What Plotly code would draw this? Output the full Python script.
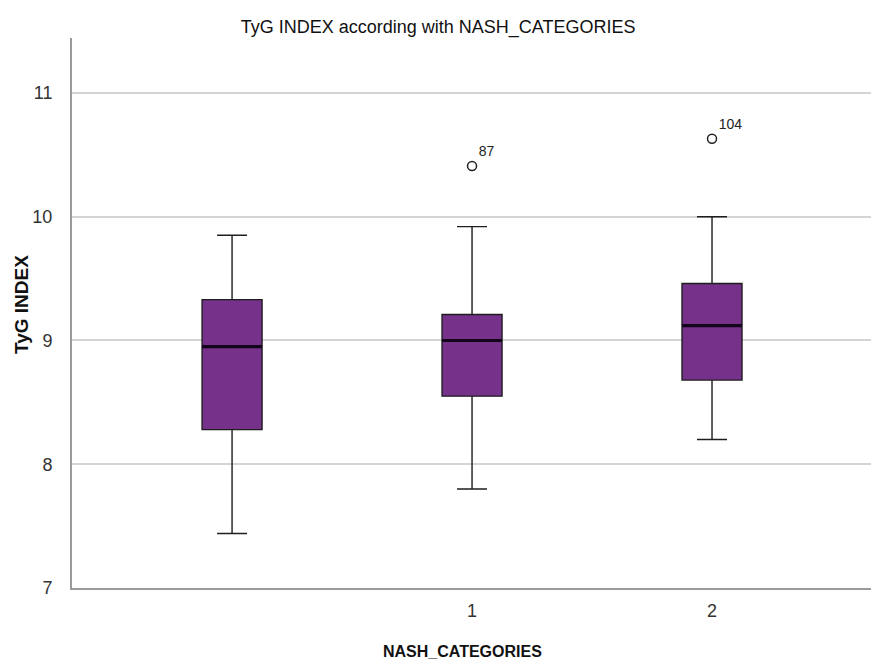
import plotly.graph_objects as go

# Data
categories = [0, 1, 2]
tick_labels = ["", "1", "2"]
lower_whisker = [7.44, 7.80, 8.20]
q1_values = [8.28, 8.55, 8.68]
median_values = [8.95, 9.00, 9.12]
q3_values = [9.33, 9.21, 9.46]
upper_whisker = [9.85, 9.92, 10.00]

outlier_x = [1, 2]
outlier_y = [10.41, 10.63]
outlier_ids = ["87", "104"]

BOX_FILL = "#76318a"
FONT_N = "Liberation Sans Narrow, Arial Narrow, Liberation Sans, sans-serif"
FONT_B = "Liberation Sans, Arial, sans-serif"

fig = go.Figure()

# main boxes
fig.add_trace(go.Box(
    x=categories,
    q1=q1_values, median=median_values, q3=q3_values,
    lowerfence=lower_whisker, upperfence=upper_whisker,
    width=0.25, whiskerwidth=0.5,
    fillcolor=BOX_FILL,
    line=dict(color="#1e1e1e", width=1.4),
    offsetgroup="a",
    showlegend=False, hoverinfo="skip",
))

# thick median lines (degenerate boxes)
fig.add_trace(go.Box(
    x=categories,
    q1=median_values, median=median_values, q3=median_values,
    lowerfence=median_values, upperfence=median_values,
    width=0.25, whiskerwidth=0,
    fillcolor="rgba(0,0,0,0)",
    line=dict(color="#14061a", width=3.2),
    offsetgroup="a",
    showlegend=False, hoverinfo="skip",
))

# outliers
fig.add_trace(go.Scatter(
    x=outlier_x, y=outlier_y,
    mode="markers+text",
    marker=dict(symbol="circle-open", size=9, color="#222222", line=dict(width=1.5)),
    text=outlier_ids, textposition="top right",
    textfont=dict(family=FONT_N, size=14, color="#222222"),
    showlegend=False, hoverinfo="skip",
))

fig.update_layout(
    width=871, height=662,
    margin=dict(l=72, r=0, t=38, b=74, autoexpand=False),
    plot_bgcolor="white", paper_bgcolor="white",
    boxmode="overlay",
    title=dict(
        text="TyG INDEX according with NASH_CATEGORIES",
        x=0.503, xanchor="center", y=0.959, yanchor="middle",
        xref="container", yref="container",
        font=dict(family=FONT_N, size=18, color="#111111"),
    ),
    annotations=[
        dict(text="<b>TyG INDEX</b>", xref="paper", yref="paper",
             x=0, y=0.5145, xshift=-51, textangle=-90,
             xanchor="center", yanchor="middle", showarrow=False,
             font=dict(family=FONT_B, size=19, color="#111111")),
        dict(text="<b>NASH_CATEGORIES</b>", xref="paper", yref="paper",
             x=0.489, y=-0.116, xanchor="center", yanchor="middle",
             showarrow=False,
             font=dict(family=FONT_N, size=16, color="#111111")),
    ],
)

fig.update_xaxes(
    range=[-0.667, 2.6625],
    tickvals=categories, ticktext=tick_labels,
    showgrid=False, zeroline=False, automargin=False,
    showline=True, linecolor="#9a9a9a", linewidth=2,
    ticks="", ticklen=0, ticklabelstandoff=5,
    tickfont=dict(family=FONT_N, size=18, color="#333333"),
)

fig.update_yaxes(
    range=[7, 11.444],
    tickvals=[7, 8, 9, 10, 11],
    showgrid=True, gridcolor="#d4d4d4", gridwidth=2,
    zeroline=False, automargin=False,
    showline=True, linecolor="#9a9a9a", linewidth=2,
    ticks="", ticklen=0, ticklabelstandoff=14,
    tickfont=dict(family=FONT_N, size=18, color="#333333"),
)

fig.write_html(
    "out.html",
    config={"displayModeBar": False},
    post_script="document.body.style.margin='0';document.body.style.overflow='hidden';",
)
